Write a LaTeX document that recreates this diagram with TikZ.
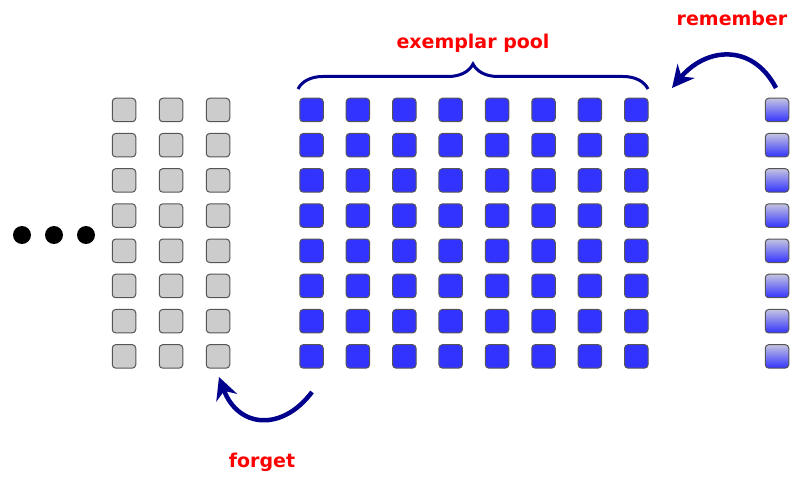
\documentclass[tikz,border=0pt]{standalone}
\usepackage{fontspec}
\setsansfont{DejaVu Sans}
\usetikzlibrary{arrows.meta,positioning,decorations.pathreplacing}
\definecolor{poolblue}{RGB}{51,51,255}
\definecolor{oldgray}{RGB}{204,204,204}
\definecolor{edgegray}{RGB}{85,85,85}
\definecolor{arrownavy}{RGB}{0,0,140}
\definecolor{newtop}{RGB}{195,195,225}

\begin{document}
\begin{tikzpicture}[x=1pt, y=-1pt,
  cell/.style={draw=edgegray, line width=1pt, rounded corners=3.5pt,
               minimum size=23.5pt, inner sep=0pt},
  old/.style={cell, fill=oldgray},
  pool/.style={cell, fill=poolblue},
  fresh/.style={cell, top color=newtop, bottom color=poolblue},
  dot/.style={circle, fill=black, minimum size=18pt, inner sep=0pt},
  curve/.style={-{Stealth[length=22pt,width=22pt]}, line width=4.5pt, draw=arrownavy},
  lab/.style={font=\sffamily\bfseries\fontsize{19}{22}\selectfont, text=red}]
\useasboundingbox (0,0) rectangle (790,478);
% forgotten classes
\foreach \i in {1,...,3}
  \foreach \j in {1,...,8}
    \node[old] (g-\i-\j) at ({124+47*(\i-1)}, {110+35.2*(\j-1)}) {};
% exemplar pool
\foreach \i in {1,...,8}
  \foreach \j in {1,...,8}
    \node[pool] (b-\i-\j) at ({311.5+46.4*(\i-1)}, {110+35.2*(\j-1)}) {};
% new class
\foreach \j in {1,...,8}
  \node[fresh] (r-\j) at (777, {110+35.2*(\j-1)}) {};
\node[dot] (d1) at (22,235) {};
\node[dot] (d2) at (54,235) {};
\node[dot] (d3) at (86,235) {};
% brace and labels
\coordinate (brace-l) at (298,89);
\coordinate (brace-r) at (648,89);
\draw[decorate, decoration={brace, amplitude=25pt}, line width=3pt, draw=arrownavy]
  (brace-l) -- (brace-r);
\node[lab] (poolname) at (473,43) {exemplar pool};
\node[lab] (remname) at (732,18) {remember};
\node[lab] (forname) at (262,462) {forget};
% arrows
\coordinate (rem-from) at (776,88);
\coordinate (rem-to) at (672,88);
\coordinate (for-from) at (312,392);
\coordinate (for-to) at (219,377);
\draw[curve] (rem-from) .. controls (752,42) and (705,48) .. (rem-to);
\draw[curve] (for-from) .. controls (282,432) and (238,428) .. (for-to);
\end{tikzpicture}
\end{document}
